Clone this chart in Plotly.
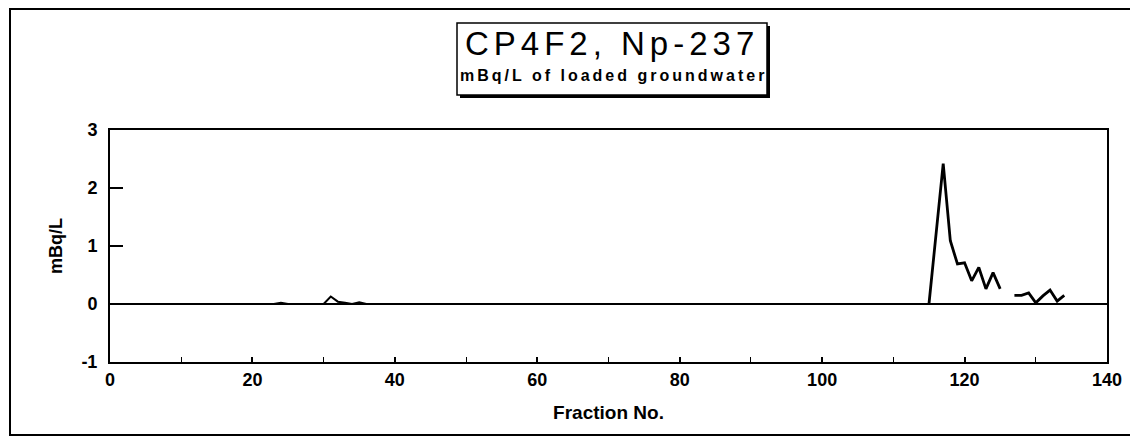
import plotly.graph_objects as go

# ---- data ----
fraction_early = list(range(1, 41))
values_early = [0.0, 0.0, 0.0, 0.0, 0.0, 0.0, 0.0, 0.0, 0.0, 0.0,
                0.0, 0.0, 0.01, 0.0, 0.0, 0.0, 0.01, 0.0, 0.0, 0.0,
                0.0, 0.0, 0.0, 0.02, 0.0, 0.0, 0.0, 0.0, 0.0, 0.0,
                0.13, 0.04, 0.02, 0.0, 0.03, 0.0, 0.0, 0.0, 0.0, 0.0]
fraction_late = [115, 116, 117, 118, 119, 120, 121, 122, 123, 124, 125, 126,
                 127, 128, 129, 130, 131, 132, 133, 134]
values_late = [0.0, 1.15, 2.42, 1.09, 0.69, 0.71, 0.40, 0.63, 0.26, 0.54, 0.26, None,
               0.15, 0.15, 0.19, 0.02, 0.14, 0.24, 0.05, 0.15]

x_tickvals = [0, 20, 40, 60, 80, 100, 120, 140]
x_ticktext = ["0", "20", "40", "60", "80", "100", "120", "140"]
y_tickvals = [-1, 0, 1, 2, 3]
y_ticktext = ["-1", "0", "1", "2", "3"]

title_text = "CP4F2, Np-237"
subtitle_text = "mBq/L of loaded groundwater"
x_title = "Fraction No."
y_title = "mBq/L"

FONT = "Liberation Sans, Arial, sans-serif"

fig = go.Figure()
fig.add_trace(go.Scatter(x=fraction_early, y=values_early, mode="lines",
                         line=dict(color="black", width=2), showlegend=False))
fig.add_trace(go.Scatter(x=fraction_late, y=values_late, mode="lines",
                         line=dict(color="black", width=2.8), connectgaps=False,
                         showlegend=False))

# the page body adds an 8px offset; work in page pixels and convert
OFF = 8
W, H = 1130, 430
plot_left, plot_right, plot_top, plot_bottom = 110, 1107, 130, 362  # page pixels
ml = plot_left - OFF
mt = plot_top - OFF
mr = W - (plot_right - OFF)
mb = H - (plot_bottom - OFF)
pw, ph = W - ml - mr, H - mt - mb

def px_x(px):
    return (px - OFF - ml) / pw

def px_y(py):
    return (H - mb - (py - OFF)) / ph

fig.update_layout(
    width=W, height=H,
    margin=dict(l=ml, r=mr, t=mt, b=mb, autoexpand=False),
    paper_bgcolor="white", plot_bgcolor="white",
    font=dict(family=FONT, color="black"),
    xaxis=dict(range=[0, 140], tickvals=x_tickvals, ticktext=x_ticktext,
               automargin=False,
               ticks="inside", ticklen=5, tickwidth=1.5, tickcolor="black",
               minor=dict(dtick=10, ticks="inside", ticklen=5, tickwidth=1, tickcolor="black"),
               showline=True, linecolor="black", linewidth=2, mirror=True,
               showgrid=False, zeroline=False, ticklabelstandoff=0,
               tickfont=dict(size=18, family=FONT, weight="bold"),
               title=dict(text=x_title, font=dict(size=19, family=FONT, weight="bold"), standoff=17)),
    yaxis=dict(range=[-1, 3], tickvals=y_tickvals, ticktext=y_ticktext,
               automargin=False,
               ticks="inside", ticklen=13, tickwidth=1.5, tickcolor="black",
               showline=True, linecolor="black", linewidth=2, mirror=True,
               showgrid=False, zeroline=True, zerolinecolor="black", zerolinewidth=1.8,
               ticklabelstandoff=7,
               tickfont=dict(size=18, family=FONT, weight="bold"),
               title=dict(text=y_title, font=dict(size=18, family=FONT, weight="bold"), standoff=14)),
)

# outer frame (right edge lies beyond the picture)
fig.add_shape(type="rect", xref="paper", yref="paper",
              x0=px_x(10), x1=px_x(1160), y0=px_y(435), y1=px_y(9),
              line=dict(color="black", width=2), layer="below")

# title box: shadow then box
fig.add_shape(type="rect", xref="paper", yref="paper",
              x0=px_x(460), x1=px_x(770), y0=px_y(98), y1=px_y(26),
              line=dict(color="black", width=0), fillcolor="black", layer="below")
fig.add_shape(type="rect", xref="paper", yref="paper",
              x0=px_x(457), x1=px_x(767), y0=px_y(95), y1=px_y(23),
              line=dict(color="black", width=1.5), fillcolor="white", layer="below")

fig.add_annotation(
    xref="paper", yref="paper", x=px_x(612), y=px_y(43),
    xanchor="center", yanchor="middle", showarrow=False,
    text=f"<span style='letter-spacing:5px'>{title_text}</span>",
    font=dict(family=FONT, color="black", size=33),
)
fig.add_annotation(
    xref="paper", yref="paper", x=px_x(613), y=px_y(76),
    xanchor="center", yanchor="middle", showarrow=False,
    text=f"<b><span style='letter-spacing:3px'>{subtitle_text}</span></b>",
    font=dict(family=FONT, color="black", size=16),
)

fig.write_html("out.html")
